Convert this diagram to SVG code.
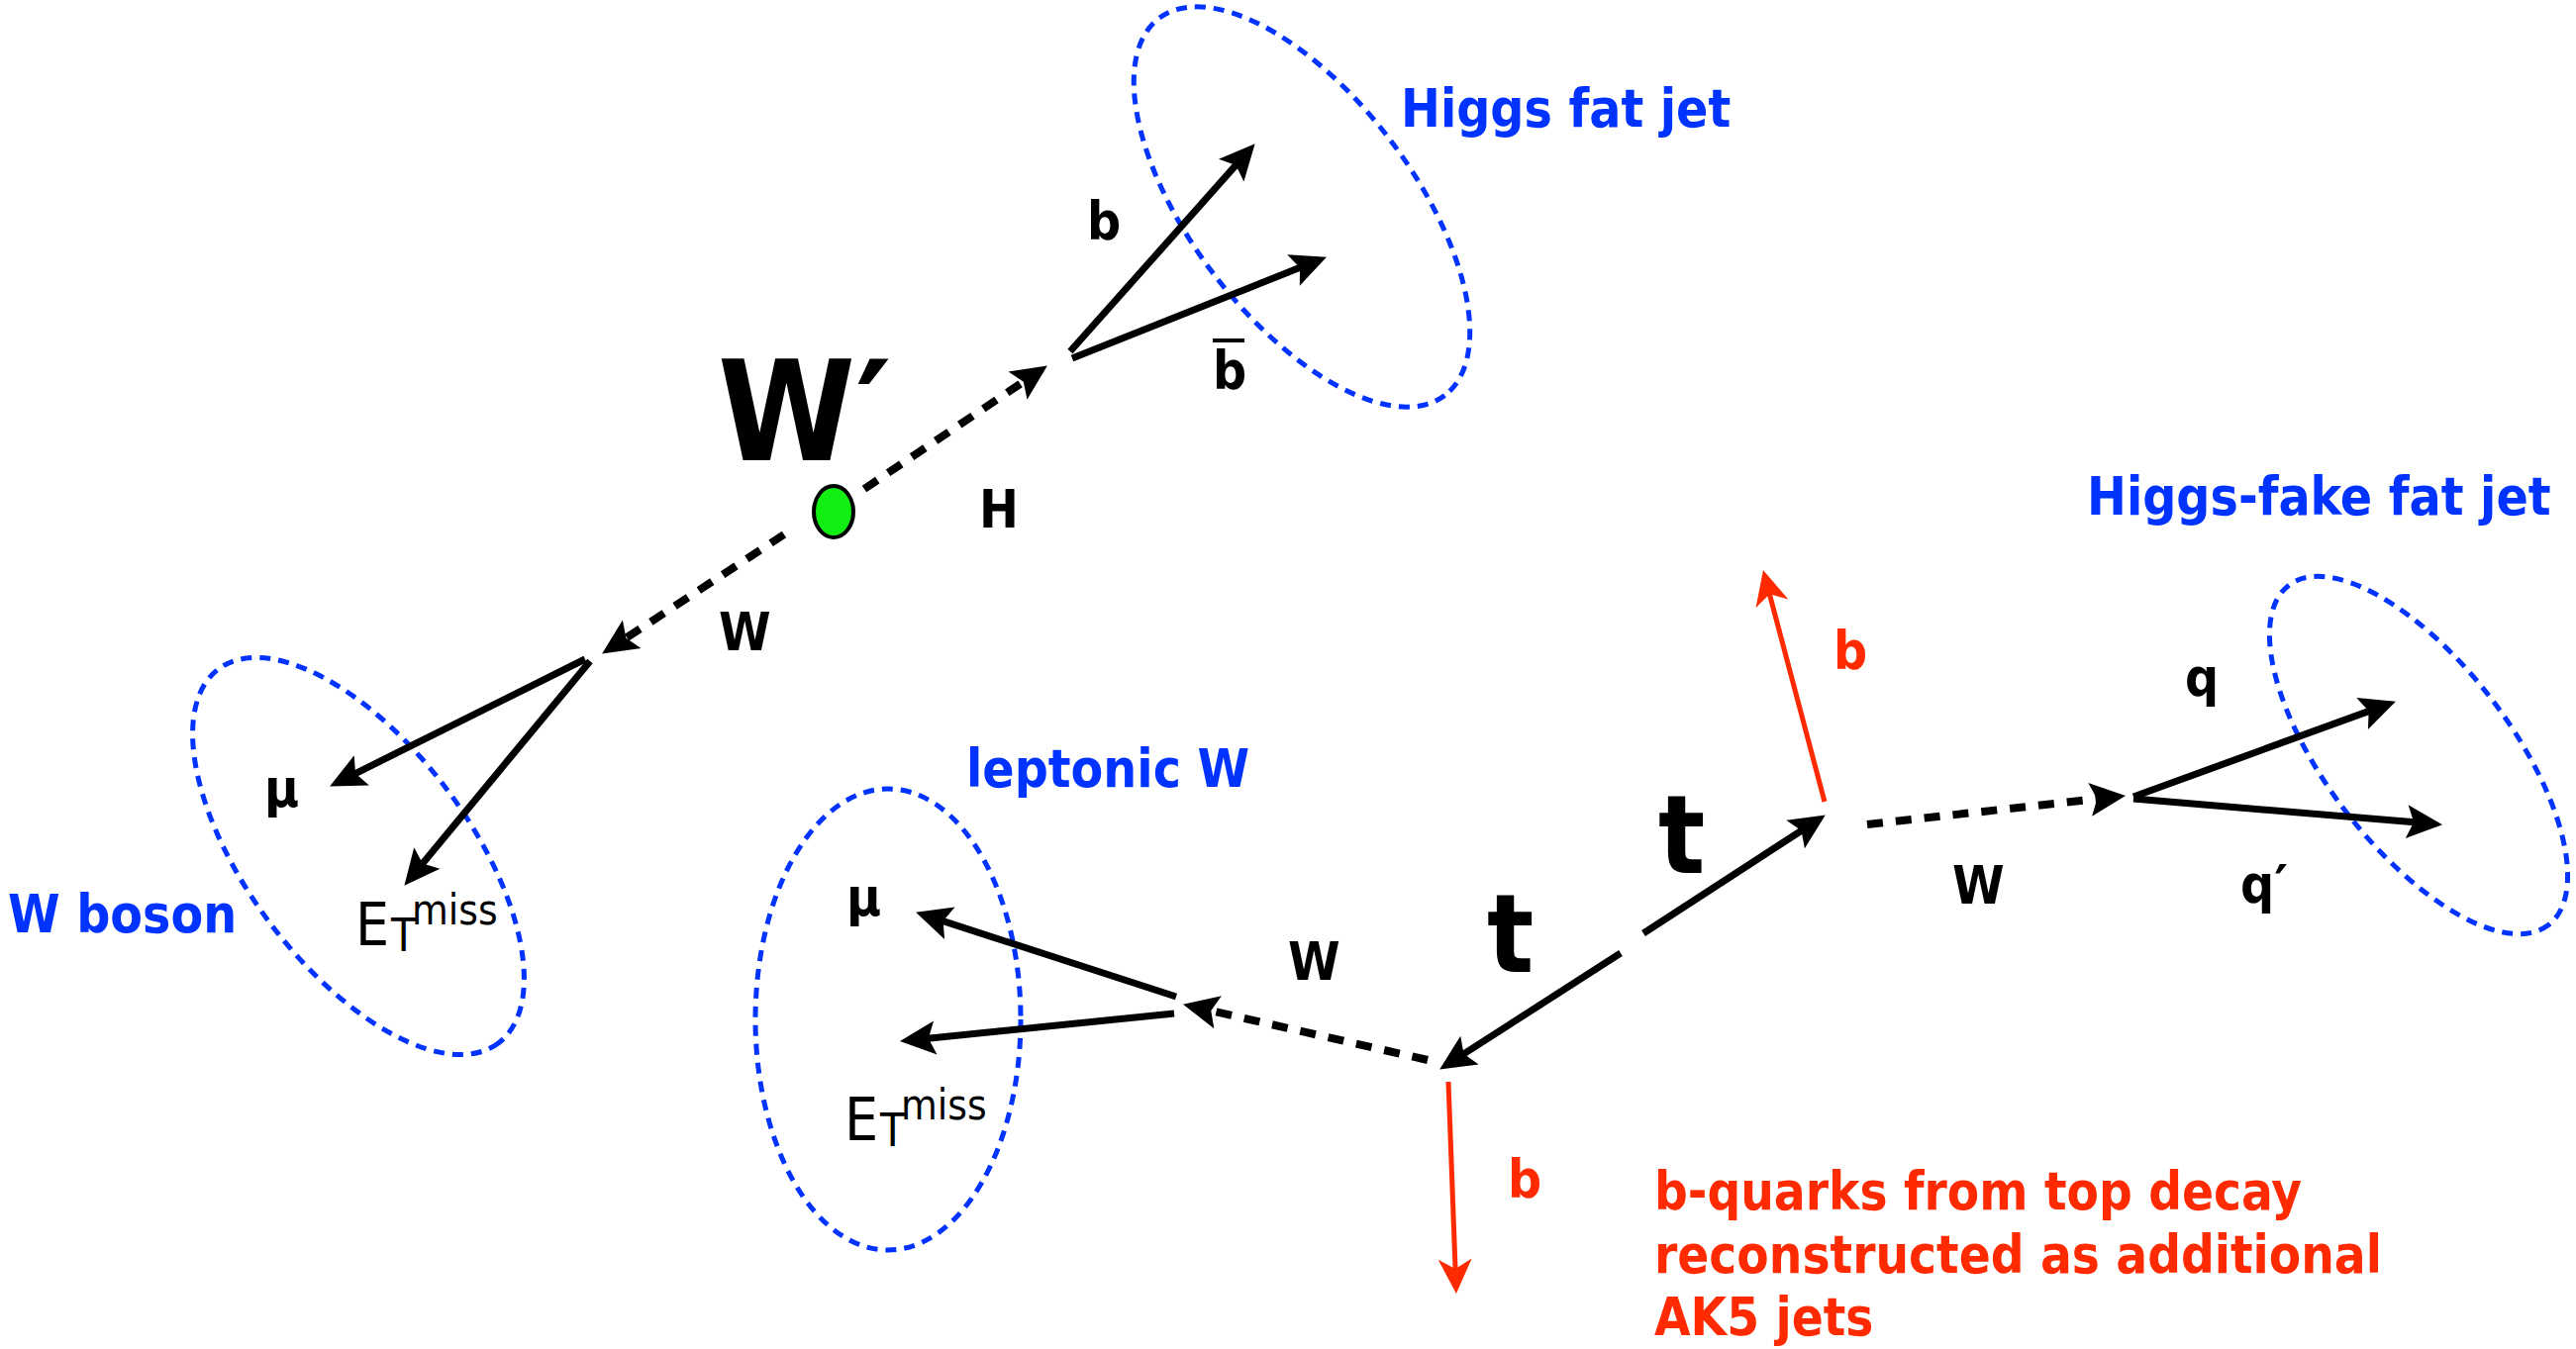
<svg xmlns="http://www.w3.org/2000/svg" width="2602" height="1363" viewBox="0 0 2602 1363">
<style>
.lbl{font-family:'DejaVu Sans Condensed','DejaVu Sans',sans-serif;font-stretch:condensed;font-weight:bold;font-size:53px;fill:#000}
.blue{fill:#0033ff}
.red{fill:#ff2a00}
.pr{font-family:'DejaVu Sans',sans-serif;font-stretch:normal}
.reg{font-family:'DejaVu Sans Condensed','DejaVu Sans',sans-serif;font-stretch:condensed;font-weight:normal;fill:#000}
.jet{fill:none;stroke:#0033ff;stroke-width:5;stroke-dasharray:11 8}
.arr{fill:none;stroke:#000;stroke-width:7;marker-end:url(#ah)}
.dash{fill:none;stroke:#000;stroke-width:8;stroke-dasharray:16 13;marker-end:url(#ah)}
.rarr{fill:none;stroke:#ff2a00;stroke-width:5;marker-end:url(#rh)}
</style>
<defs>
<marker id="ah" markerUnits="userSpaceOnUse" orient="auto" viewBox="-25 -20 45 40" markerWidth="45" markerHeight="40" refX="0" refY="0" overflow="visible">
<path d="M16,0 L-20,-17 L-13,0 L-20,17 Z" fill="#000"/>
</marker>
<marker id="rh" markerUnits="userSpaceOnUse" orient="auto" viewBox="-25 -20 45 40" markerWidth="45" markerHeight="40" refX="0" refY="0" overflow="visible">
<path d="M15,0 L-20,-17 L-10,0 L-20,17 Z" fill="#ff2a00"/>
</marker>
</defs>
<rect width="2602" height="1363" fill="#fff"/>

<g id="higgs-jet">
<ellipse class="jet" cx="1315" cy="209" rx="239" ry="112" transform="rotate(52.85 1315 209)"/>
<text class="lbl blue" x="1415" y="128">Higgs fat jet</text>
</g>
<g id="wboson-jet">
<ellipse class="jet" cx="362" cy="865" rx="236" ry="112" transform="rotate(53.2 362 865)"/>
<text class="lbl blue" x="8" y="942">W boson</text>
</g>
<g id="leptonic-jet">
<ellipse class="jet" cx="897" cy="1030" rx="134" ry="233"/>
<text class="lbl blue" x="976" y="795">leptonic W</text>
</g>
<g id="fake-jet">
<ellipse class="jet" cx="2443" cy="763" rx="216" ry="93" transform="rotate(52.6 2443 763)"/>
<text class="lbl blue" x="2108" y="520">Higgs-fake fat jet</text>
</g>

<g id="connectors">
<line class="dash" x1="873" y1="494" x2="1044.6" y2="378.4"/>
<line class="dash" x1="792" y1="540" x2="621.5" y2="651.8"/>
<line class="dash" x1="1442" y1="1071" x2="1210.6" y2="1018.3"/>
<line class="dash" x1="1886" y1="833" x2="2131.1" y2="805.7"/>
<line class="arr" x1="1081" y1="355" x2="1257" y2="157.2"/>
<line class="arr" x1="1083" y1="362" x2="1325.1" y2="265.6"/>
<line class="arr" x1="591" y1="666" x2="347.4" y2="787.3"/>
<line class="arr" x1="596" y1="668" x2="418.6" y2="882.4"/>
<line class="arr" x1="1188" y1="1007" x2="940.3" y2="926.6"/>
<line class="arr" x1="1186" y1="1024" x2="924.9" y2="1050.5"/>
<line class="arr" x1="1637" y1="963" x2="1467.6" y2="1071.9"/>
<line class="arr" x1="1660" y1="943" x2="1830.4" y2="832.2"/>
<line class="arr" x1="2155" y1="805" x2="2404.9" y2="714.1"/>
<line class="arr" x1="2155" y1="807" x2="2451.1" y2="831.8"/>
<line class="rarr" x1="1463" y1="1093" x2="1470.4" y2="1292"/>
<line class="rarr" x1="1843" y1="810" x2="1784.8" y2="590.5"/>
</g>

<g id="wprime">
<ellipse cx="842" cy="517" rx="20" ry="26" fill="#11ee11" stroke="#000" stroke-width="4"/>
<text class="lbl" x="725" y="465" style="font-size:140px">W<tspan class="pr">′</tspan></text>
</g>

<g id="labels">
<text class="lbl" x="1098" y="242">b</text>
<text class="lbl" x="1225" y="393">b</text>
<line x1="1225" y1="344" x2="1257" y2="344" stroke="#000" stroke-width="4"/>
<text class="lbl" x="989" y="533">H</text>
<text class="lbl" x="726" y="657">W</text>
<text class="lbl" x="267" y="815">μ</text>
<text class="reg" x="359" y="955" style="font-size:60px">E</text>
<text class="reg" x="395" y="961" style="font-size:46px">T</text>
<text class="reg" x="416" y="934" style="font-size:42px">miss</text>
<text class="lbl" x="855" y="925">μ</text>
<text class="reg" x="853" y="1152" style="font-size:60px">E</text>
<text class="reg" x="889" y="1158" style="font-size:46px">T</text>
<text class="reg" x="910" y="1131" style="font-size:42px">miss</text>
<text class="lbl" x="1301" y="990">W</text>
<text class="lbl" x="1502" y="982" style="font-size:110px">t</text>
<text class="lbl" x="1675" y="882" style="font-size:110px">t</text>
<text class="lbl red" x="1523" y="1210">b</text>
<text class="lbl red" x="1852" y="676">b</text>
<text class="lbl" x="1972" y="913">W</text>
<text class="lbl" x="2207" y="703">q</text>
<text class="lbl" x="2263" y="912">q<tspan class="pr">′</tspan></text>
<text class="lbl red" x="1671" y="1222" style="font-size:52.5px">b-quarks from top decay</text>
<text class="lbl red" x="1671" y="1286" style="font-size:52.5px">reconstructed as additional</text>
<text class="lbl red" x="1671" y="1349" style="font-size:52.5px">AK5 jets</text>
</g>
</svg>
